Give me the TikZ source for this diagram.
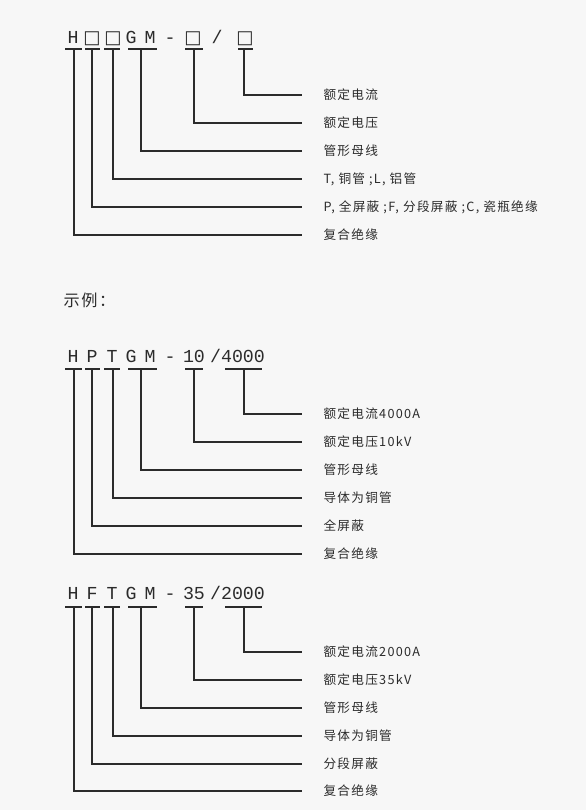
\documentclass[tikz,border=0pt]{standalone}
\usepackage{fontspec}
\newfontfamily\codefont{Liberation Mono}
\newfontfamily\cjk[LetterSpace=10]{Noto Sans CJK SC}
\newfontfamily\symfont{DejaVu Sans}
\newcommand\codebox{{\symfont □}}
\definecolor{bgc}{HTML}{F7F7F7}
\definecolor{ink}{HTML}{2B2B2B}

\begin{document}
\begin{tikzpicture}[x=0.025cm, y=-0.025cm, line width=0.8pt,
  every node/.style={inner sep=0pt, text=ink},
  code/.style={anchor=base, font=\codefont\fontsize{13}{13}\selectfont},
  lab/.style={anchor=west, font=\cjk\fontsize{9}{10}\selectfont},
  bar/.style={draw=ink},
  link/.style={draw=ink, shorten >=0.525cm}]
  \fill[bgc] (0,0) rectangle (586,810);
  \useasboundingbox (0,0) rectangle (586,810);

  \foreach \x/\c [count=\i] in {73/H,92/\codebox,113/\codebox,131/G,150/M,170/-,193/\codebox,217/\slash,245/\codebox}
    \node[code] (a\i) at (\x,43) {\c};
  \foreach \l/\r/\v/\y/\t [count=\i] in {{238/253/244/95/额定电流}, {185/203/194/123/额定电压}, {128/157/141/151/管形母线},
      {104/120/113/179/T, 铜管 ;L, 铝管}, {85/100/92/207/P, 全屏蔽 ;F, 分段屏蔽 ;C, 瓷瓶绝缘}, {65/82/74/235/复合绝缘}} {
    \draw[bar] (\l,49) -- (\r,49);
    \coordinate (ta\i) at (\v,49);
    \node[lab] (la\i) at (323,\y) {\t};
    \draw[link] (ta\i) |- (la\i.west);
  }

  \node[lab, font=\cjk\fontsize{11.5}{13}\selectfont] (ex) at (63,300) {示例：};

  \foreach \x/\c [count=\i] in {73/H,92/P,112/T,131/G,150/M,170/-,194/10,237.5/\slash4000}
    \node[code] (b\i) at (\x,362) {\c};
  \foreach \l/\r/\v/\y/\t [count=\i] in {{225/262/244/414/额定电流4000A}, {185/203/194/442/额定电压10kV}, {128/157/141/470/管形母线},
      {104/120/113/498/导体为铜管}, {85/100/92/526/全屏蔽}, {65/82/74/554/复合绝缘}} {
    \draw[bar] (\l,369) -- (\r,369);
    \coordinate (tb\i) at (\v,369);
    \node[lab] (lb\i) at (323,\y) {\t};
    \draw[link] (tb\i) |- (lb\i.west);
  }

  \foreach \x/\c [count=\i] in {73/H,92/F,112/T,131/G,150/M,170/-,194/35,237.5/\slash2000}
    \node[code] (c\i) at (\x,599) {\c};
  \foreach \l/\r/\v/\y/\t [count=\i] in {{225/262/244/652/额定电流2000A}, {185/203/194/680/额定电压35kV}, {128/157/141/708/管形母线},
      {104/120/113/736/导体为铜管}, {85/100/92/764/分段屏蔽}, {65/82/74/791/复合绝缘}} {
    \draw[bar] (\l,607) -- (\r,607);
    \coordinate (tc\i) at (\v,607);
    \node[lab] (lc\i) at (323,\y) {\t};
    \draw[link] (tc\i) |- (lc\i.west);
  }
\end{tikzpicture}
\end{document}
